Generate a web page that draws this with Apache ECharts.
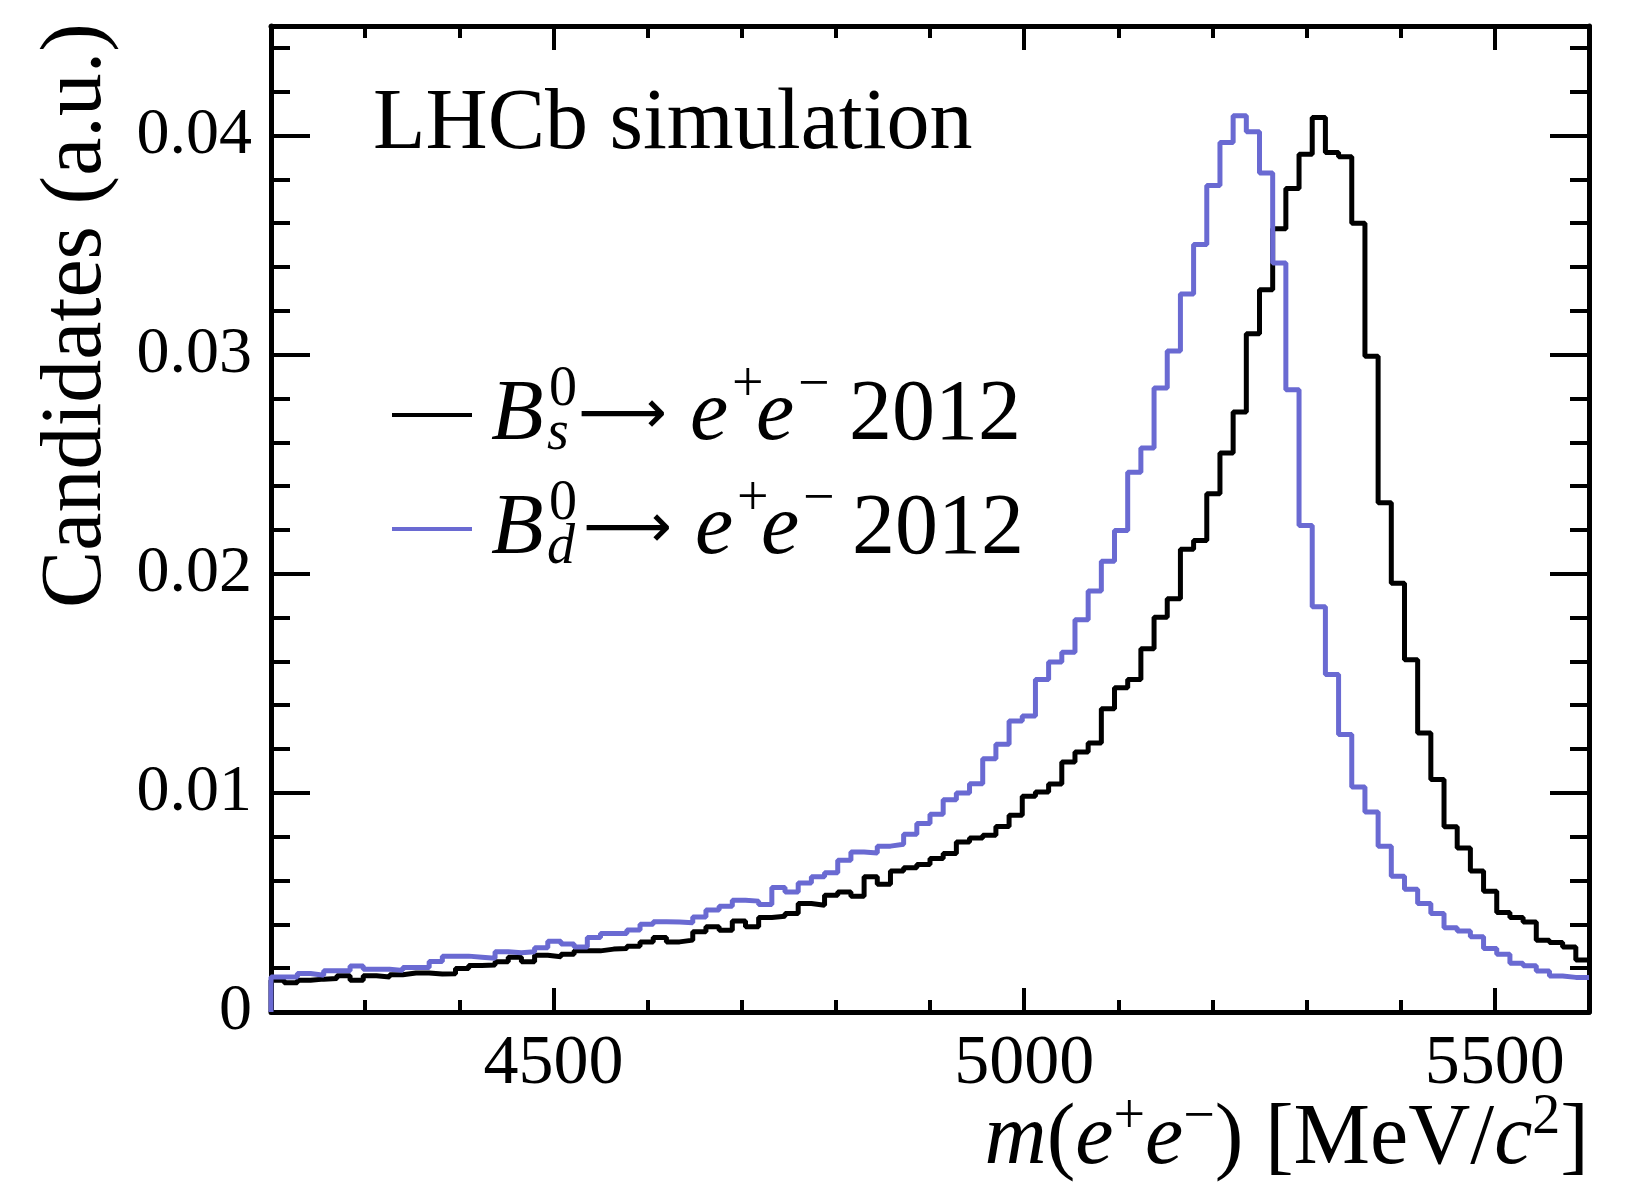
<!DOCTYPE html>
<html><head><meta charset="utf-8">
<script src="https://cdn.jsdelivr.net/npm/echarts@6/dist/echarts.min.js"></script>
<style>html,body{margin:0;padding:0;background:#fff}#c{width:1639px;height:1197px}</style>
</head><body><div id="c"></div>
<script>
// Histogram definition: 100 bins of 14 MeV/c^2 from 4200 to 5600
const xMin = 4200, xMax = 5600, binWidth = 14;

// B_s^0 -> e+e- 2012 (black)
const bsValues = [
 0.00145,0.00133,0.00145,0.0015,0.00153,0.00165,0.00145,0.00165,0.0016,0.0017,
 0.00178,0.00178,0.00173,0.00175,0.00199,0.00212,0.00214,0.00229,0.0025,0.00229,
 0.00259,0.00252,0.00264,0.00279,0.00279,0.00287,0.0029,0.003,0.0032,0.0034,
 0.0032,0.00328,0.00366,0.00389,0.00373,0.00415,0.00389,0.00431,0.00437,0.0045,
 0.00495,0.00487,0.00533,0.00548,0.00528,0.00617,0.00583,0.00644,0.00658,0.00673,
 0.007,0.00723,0.00776,0.00794,0.00807,0.00847,0.00898,0.00985,0.01004,0.0104,
 0.01141,0.01187,0.01228,0.01384,0.0148,0.01517,0.01658,0.01802,0.01886,0.02112,
 0.02152,0.02365,0.02551,0.02738,0.03096,0.03296,0.03575,0.03758,0.03915,0.04082,
 0.03923,0.03903,0.036,0.02993,0.02324,0.01957,0.01608,0.01273,0.01061,0.00845,
 0.00749,0.00643,0.00551,0.00454,0.00431,0.00411,0.00328,0.00317,0.00297,0.00237
];

// B_d^0 -> e+e- 2012 (blue)
const bdValues = [
 0.0016,0.0016,0.00176,0.00168,0.00188,0.00188,0.0021,0.00195,0.00195,0.0019,
 0.00203,0.00203,0.0023,0.00255,0.00255,0.0025,0.00245,0.00275,0.0027,0.00275,
 0.00293,0.00323,0.0031,0.00297,0.0034,0.00358,0.00358,0.00374,0.00401,0.00412,
 0.00411,0.00407,0.00434,0.00465,0.00483,0.0051,0.00506,0.00491,0.00568,0.00548,
 0.00589,0.00617,0.00635,0.00693,0.0073,0.00726,0.00757,0.00766,0.00811,0.0086,
 0.00902,0.00969,0.01,0.01042,0.01156,0.01222,0.01328,0.01351,0.01517,0.01597,
 0.01642,0.0179,0.01921,0.02057,0.02198,0.02463,0.02574,0.02848,0.03017,0.03277,
 0.03503,0.03772,0.03968,0.0409,0.04017,0.03829,0.03418,0.0284,0.0222,0.0185,
 0.0154,0.01266,0.01027,0.00913,0.00757,0.0062,0.0056,0.00495,0.0045,0.00384,
 0.0037,0.00343,0.0029,0.00264,0.00222,0.00211,0.00187,0.00164,0.00158,0.00158
];

const xMajorTicks = [4500, 5000, 5500];
const xMinorTicks = [4300, 4400, 4600, 4700, 4800, 4900, 5100, 5200, 5300, 5400];
const yMajorTicks = [0, 0.01, 0.02, 0.03, 0.04];
const yMinorTicks = [0.002, 0.004, 0.006, 0.008, 0.012, 0.014, 0.016, 0.018,
                     0.022, 0.024, 0.026, 0.028, 0.032, 0.034, 0.036, 0.038, 0.042, 0.044];
const yMin = 0, yMax = 0.045;

const FONT = '"Liberation Serif", "Times New Roman", serif';
const BLUE = '#6a6ad2';

function histPoints(vals) {
  const pts = [[xMin, 0]];
  vals.forEach((v, i) => pts.push([xMin + i * binWidth, v]));
  pts.push([xMin + vals.length * binWidth, vals[vals.length - 1]]);
  return pts;
}

const tickLine = { color: '#000', width: 4 };
function xAx(pos, ticks, len, showLine, labels) {
  return {
    type: 'value', position: pos, min: xMin, max: xMax,
    axisLine: { show: showLine, onZero: false, lineStyle: { color: '#000', width: 5 } },
    axisTick: { show: true, inside: true, length: len, lineStyle: tickLine, customValues: ticks },
    axisLabel: labels ? { show: true, customValues: ticks, margin: 18, fontFamily: FONT, fontSize: 70, color: '#000',
      formatter: v => String(v) } : { show: false },
    splitLine: { show: false }
  };
}
function yAx(pos, ticks, len, showLine, labels) {
  return {
    type: 'value', position: pos, min: yMin, max: yMax,
    axisLine: { show: showLine, onZero: false, lineStyle: { color: '#000', width: 5 } },
    axisTick: { show: true, inside: true, length: len, lineStyle: tickLine, customValues: ticks },
    axisLabel: labels ? { show: true, customValues: ticks, margin: 19, fontFamily: FONT, fontSize: 66, color: '#000',
      formatter: v => (v === 0 ? '0' : v.toFixed(2)) } : { show: false },
    splitLine: { show: false }
  };
}

function txt(text, x, y, size, italic, opts) {
  return Object.assign({
    type: 'text', x: x, y: y, z: 100,
    style: Object.assign({ text: text, fontFamily: FONT, fontSize: size, fontStyle: italic ? 'italic' : 'normal',
      fill: '#000', textAlign: 'left', textVerticalAlign: 'middle' }, (opts && opts.style) || {})
  }, (opts && opts.el) || {});
}

const BIG = 86, SMALL = 56;
function legendRow(color, dy, subText, xs) {
  const base = 443 + dy; // baseline of row
  const mid = base - 27;
  return [
    { type: 'line', z: 100, shape: { x1: 392, y1: mid - 1, x2: 472, y2: mid - 1 }, style: { stroke: color, lineWidth: 4 } },
    txt('B', 491, mid, BIG, true),
    txt('0', 549, base - 35 - 18, SMALL, false),
    txt(subText, 547, base + 9 - 18, SMALL, true),
    txt('\u27F6', xs[0], mid + 1, 62, false, { style: { fontFamily: '"DejaVu Sans", sans-serif' } }),
    txt('e', xs[1], mid, BIG, true),
    txt('+', xs[1] + 42, mid - 30, SMALL, false),
    txt('e', xs[1] + 66, mid, BIG, true),
    txt('\u2212', xs[1] + 108, mid - 30, SMALL, false),
    txt('2012', xs[2], mid, BIG, false)
  ];
}

const chart = echarts.init(document.getElementById('c'), null, { renderer: 'canvas' });
chart.setOption({
  animation: false,
  backgroundColor: '#fff',
  grid: { left: 271, right: 50, top: 26, bottom: 185, containLabel: false },
  xAxis: [
    xAx('bottom', xMajorTicks, 24, true, true),
    xAx('bottom', xMinorTicks, 12, false, false),
    xAx('top', xMajorTicks, 24, true, false),
    xAx('top', xMinorTicks, 12, false, false)
  ],
  yAxis: [
    yAx('left', yMajorTicks, 39, true, true),
    yAx('left', yMinorTicks, 19, false, false),
    yAx('right', yMajorTicks, 39, true, false),
    yAx('right', yMinorTicks, 19, false, false)
  ],
  series: [
    { type: 'line', name: 'B_s^0 \u2192 e+e- 2012', xAxisIndex: 0, yAxisIndex: 0, step: 'end', symbol: 'none',
      data: histPoints(bsValues), lineStyle: { color: '#000', width: 5 }, itemStyle: { color: '#000' }, z: 3 },
    { type: 'line', name: 'B_d^0 \u2192 e+e- 2012', xAxisIndex: 0, yAxisIndex: 0, step: 'end', symbol: 'none',
      data: histPoints(bdValues), lineStyle: { color: BLUE, width: 5 }, itemStyle: { color: BLUE }, z: 4 }
  ],
  graphic: [
    txt('LHCb simulation', 373, 125, BIG, false),
    txt('Candidates (a.u.)', 77, 23, BIG, false, { el: { rotation: Math.PI / 2 }, style: { textAlign: 'right' } }),
    {
      type: 'text', x: 1589, y: 1140, z: 100,
      style: {
        text: '{i|m}{r|(}{i|e}{s|+}{i|e}{s|\u2212}{r|) [MeV/}{i|c}{s|2}{r|]}',
        textAlign: 'right', textVerticalAlign: 'middle', fill: '#000',
        rich: {
          i: { fontFamily: FONT, fontSize: BIG, fontStyle: 'italic', lineHeight: 100 },
          r: { fontFamily: FONT, fontSize: BIG, lineHeight: 100 },
          s: { fontFamily: FONT, fontSize: SMALL, verticalAlign: 'top', lineHeight: 70 }
        }
      }
    }
  ].concat(legendRow('#000', 0, 's', [578, 690, 849]))
   .concat(legendRow(BLUE, 114, 'd', [583, 695, 852]))
});
</script>
</body></html>
